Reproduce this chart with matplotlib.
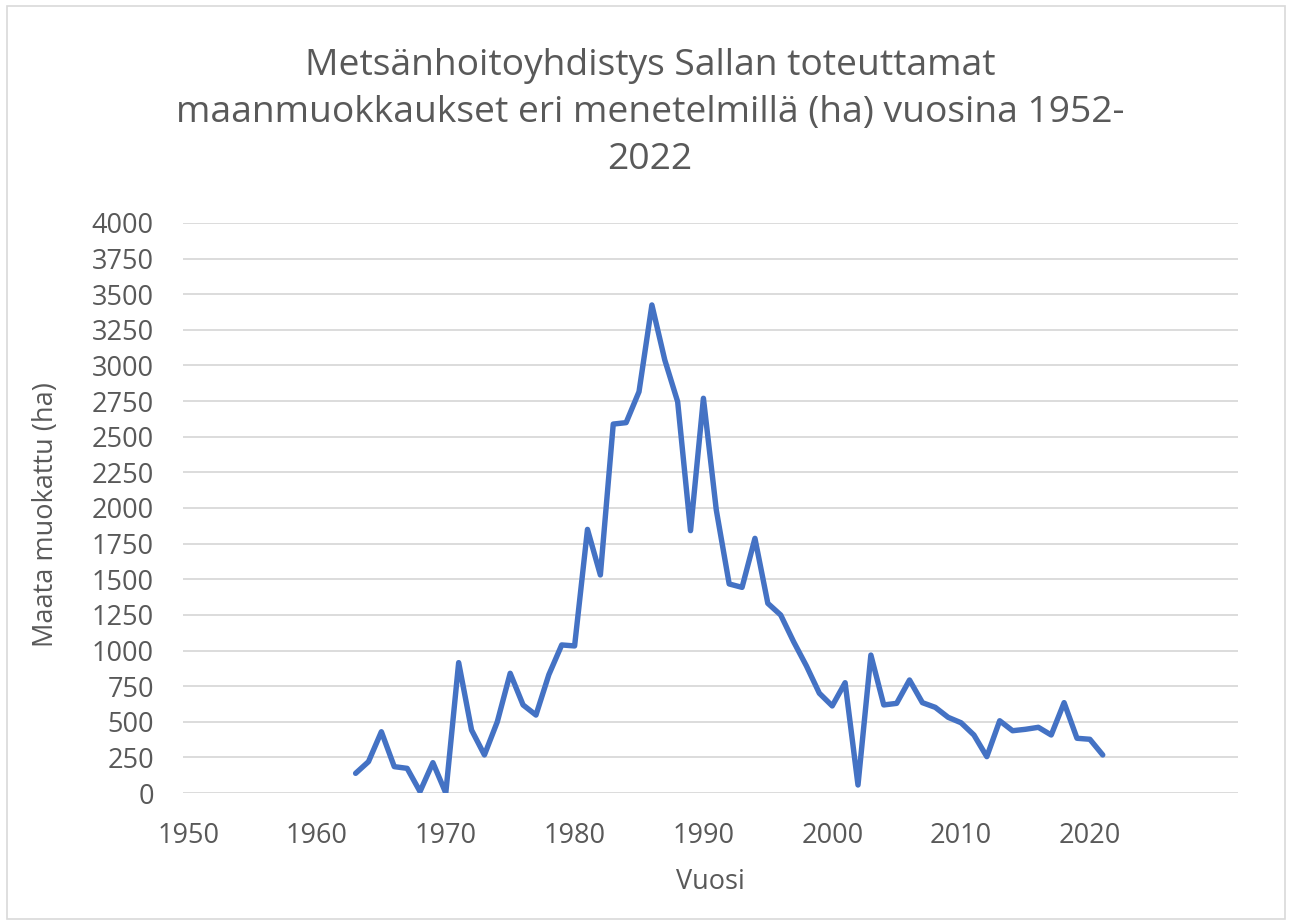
import matplotlib
matplotlib.use("Agg")
import matplotlib.pyplot as plt
from matplotlib.patches import Rectangle

plt.rcParams['font.family'] = ['Open Sans', 'DejaVu Sans']

# data (ha per year)
years = list(range(1963, 2022))
hectares = [138, 220, 430, 185, 173, 10, 213, 0, 915, 442,
            267, 500, 840, 618, 547, 830, 1039, 1032, 1850, 1530,
            2589, 2599, 2816, 3425, 3039, 2746, 1841, 2770, 1986, 1467,
            1443, 1787, 1331, 1249, 1062, 891, 700, 611, 774, 56,
            968, 618, 629, 793, 634, 601, 531, 493, 407, 255,
            507, 437, 447, 461, 407, 634, 384, 377, 267]

x_ticks = [1950, 1960, 1970, 1980, 1990, 2000, 2010, 2020]
y_ticks = list(range(0, 4001, 250))

title = "Metsänhoitoyhdistys Sallan toteuttamat\nmaanmuokkaukset eri menetelmillä (ha) vuosina 1952-\n2022"
text_col = '#595959'
grid_col = '#d9d9d9'

W, H = 1291, 924
fig = plt.figure(figsize=(W / 100, H / 100), dpi=100)
ax = fig.add_axes([183 / W, 1 - 793 / H, (1238 - 183) / W, (793 - 223) / H])

ax.plot(years, hectares, color='#4472C4', linewidth=3.9,
        solid_joinstyle='round', solid_capstyle='round', zorder=3)

ax.set_xlim(1949.6, 2031.5)
ax.set_ylim(0, 4000)
ax.set_xticks(x_ticks)
ax.set_yticks(y_ticks)
ax.grid(axis='y', color=grid_col, linewidth=1.3)
ax.set_axisbelow(True)
for s in ax.spines.values():
    s.set_visible(False)
ax.tick_params(axis='both', length=0, labelsize=19.5, labelcolor=text_col)
ax.tick_params(axis='y', pad=21)
ax.tick_params(axis='x', pad=21)

fig.text(46 / W, 1 - 515 / H, "Maata muokattu (ha)", rotation=90,
         ha='center', va='center', fontsize=19.5, color=text_col)
fig.text(710 / W, 1 - 882 / H, "Vuosi", ha='center', va='center',
         fontsize=19.5, color=text_col)
fig.text(650 / W, 1 - 113 / H, title, ha='center', va='center',
         fontsize=26.8, color=text_col, linespacing=1.42)

# chart area border
fig.patches.append(Rectangle((7 / W, 5 / H), (W - 13) / W, (H - 11) / H,
                             transform=fig.transFigure, fill=False,
                             edgecolor=grid_col, linewidth=1.2))

fig.savefig('out.png', dpi=100)
